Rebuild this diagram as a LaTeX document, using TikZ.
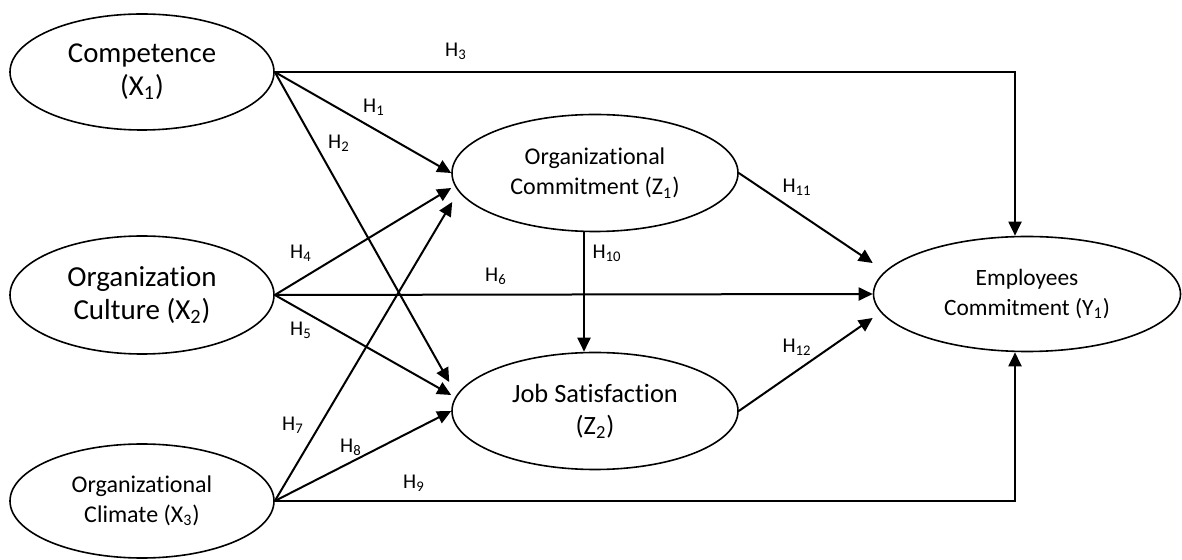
\documentclass[tikz,border=0pt]{standalone}
\usepackage{fontspec}
\setmainfont{Carlito}[Ligatures=NoCommon]
\usetikzlibrary{shapes.geometric,arrows.meta}

\begin{document}
\begin{tikzpicture}[x=0.5pt,y=-0.5pt,
  latent/.style={draw,ellipse,line width=0.8pt,inner sep=0pt,align=center},
  effect/.style={line width=1pt,-{Triangle[length=7pt,width=6.5pt]}},
  hyp/.style={font=\fontsize{10.5}{12}\selectfont}]
\useasboundingbox (0,0) rectangle (1182,560);
% exogenous variables
\node[latent,minimum width=132pt,minimum height=58pt,font=\fontsize{14.4}{16.5}\selectfont] (x1) at (142,72) {Competence\\(X\textsubscript{1})};
\node[latent,minimum width=132pt,minimum height=59pt,font=\fontsize{14.5}{16.6}\selectfont] (x2) at (142,295) {Organization\\Culture (X\textsubscript{2})};
\node[latent,minimum width=132pt,minimum height=57pt,font=\fontsize{12}{14.6}\selectfont] (x3) at (142,501) {Organizational\\Climate (X\textsubscript{3})};
% mediators and outcome
\node[latent,minimum width=143pt,minimum height=58.5pt,font=\fontsize{12}{15}\selectfont] (z1) at (595,173) {Organizational\\Commitment (Z\textsubscript{1})};
\node[latent,minimum width=143pt,minimum height=58.5pt,font=\fontsize{13.2}{16}\selectfont] (z2) at (595,411) {Job Satisfaction\\(Z\textsubscript{2})};
\node[latent,minimum width=153.5pt,minimum height=57.5pt,font=\fontsize{11.7}{15}\selectfont] (y1) at (1027,294) {Employees\\Commitment (Y\textsubscript{1})};
% paths
\draw[effect] (x1.east) -- (z1.west);
\draw[effect] (x1.east) -- ([xshift=-1pt,yshift=14.5pt]z2.west);
\draw[effect] (x1.east) -- ([xshift=-6pt]x1.east -| y1.north) -- ([xshift=-6pt]y1.north);
\draw[effect] (x2.east) -- ([yshift=-7.5pt]z1.west);
\draw[effect] (x2.east) -- ([yshift=8pt]z2.west);
\draw[effect] (x2.east) -- (y1.west);
\draw[effect] (x3.east) -- ([xshift=0.5pt,yshift=-14.5pt]z1.west);
\draw[effect] (x3.east) -- (z2.west);
\draw[effect] (x3.east) -- ([xshift=-6pt]x3.east -| y1.south) -- ([xshift=-6pt]y1.south);
\draw[effect] ([xshift=-5.5pt]z1.south) -- ([xshift=-5.5pt]z2.north);
\draw[effect] (z1.east) -- ([yshift=15.5pt]y1.west);
\draw[effect] (z2.east) -- ([yshift=-12pt]y1.west);
% hypotheses
\node[hyp] (h1) at (374,107) {H\textsubscript{1}};
\node[hyp] (h2) at (339,143) {H\textsubscript{2}};
\node[hyp] (h3) at (456,51) {H\textsubscript{3}};
\node[hyp] (h4) at (301,253) {H\textsubscript{4}};
\node[hyp] (h5) at (301,330) {H\textsubscript{5}};
\node[hyp] (h6) at (496,276) {H\textsubscript{6}};
\node[hyp] (h7) at (293,425) {H\textsubscript{7}};
\node[hyp] (h8) at (351,447) {H\textsubscript{8}};
\node[hyp] (h9) at (414,483) {H\textsubscript{9}};
\node[hyp] (h10) at (607,253) {H\textsubscript{10}};
\node[hyp] (h11) at (797,187) {H\textsubscript{11}};
\node[hyp] (h12) at (797,347) {H\textsubscript{12}};
\end{tikzpicture}
\end{document}
